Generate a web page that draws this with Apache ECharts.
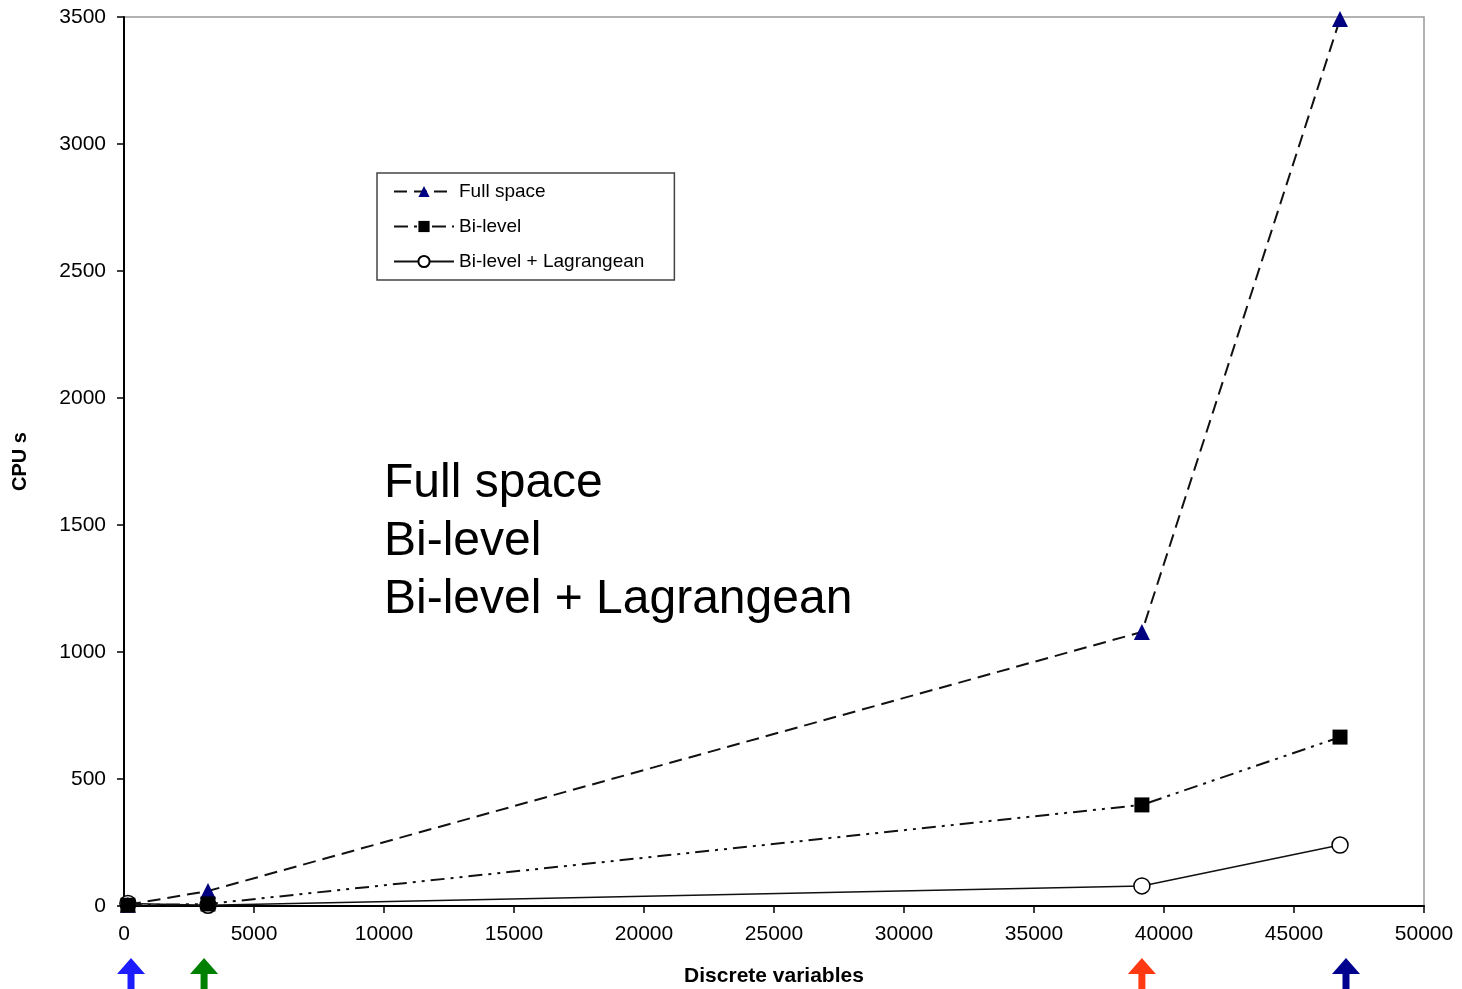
<!DOCTYPE html>
<html><head><meta charset="utf-8">
<script src="https://cdn.jsdelivr.net/npm/echarts@6/dist/echarts.min.js"></script>
<style>html,body{margin:0;padding:0;background:#fff}#c{width:1462px;height:989px}</style>
</head><body><div id="c"></div>
<script>
const seriesNames = ['Full space', 'Bi-level', 'Bi-level + Lagrangean'];
const xValues = [150, 3230, 39150, 46770];
const fullSpace = [5, 59, 1079, 3492];
const biLevel = [3, 8, 398, 665];
const biLevelLag = [10, 3, 79, 240];
const arrowX = [270, 3080, 39150, 47000];
const arrowColors = ['#1c1cff', '#008000', '#ff3a12', '#00008f'];
const overlayLines = ['Full space', 'Bi-level', 'Bi-level + Lagrangean'];

const font = 'Liberation Sans, Arial, sans-serif';
const chart = echarts.init(document.getElementById('c'), null, {renderer: 'canvas'});
function pairs(ys) { return xValues.map((x, i) => [x, ys[i]]); }
const plain = v => String(v);

chart.setOption({
  animation: false,
  grid: {left: 124, right: 38, top: 17, bottom: 83, show: true, borderColor: '#999', borderWidth: 1.5,
         backgroundColor: 'transparent', containLabel: false, outerBoundsMode: 'none'},
  xAxis: {
    type: 'value', min: 0, max: 50000, interval: 5000,
    name: 'Discrete variables', nameLocation: 'middle', nameGap: 60,
    nameTextStyle: {fontFamily: font, fontWeight: 'bold', fontSize: 21, color: '#000'},
    axisLine: {lineStyle: {color: '#000', width: 2}},
    axisTick: {show: true, length: 7, lineStyle: {color: '#000', width: 1.5}},
    axisLabel: {fontFamily: font, fontSize: 21, color: '#000', margin: 18, formatter: plain},
    splitLine: {show: false}
  },
  yAxis: {
    type: 'value', min: 0, max: 3500, interval: 500,
    name: 'CPU s', nameLocation: 'middle', nameGap: 94, nameRotate: 90,
    nameTextStyle: {fontFamily: font, fontWeight: 'bold', fontSize: 20, color: '#000'},
    axisLine: {show: true, lineStyle: {color: '#000', width: 2}},
    axisTick: {show: true, length: 7, lineStyle: {color: '#000', width: 1.5}},
    axisLabel: {fontFamily: font, fontSize: 21, color: '#000', margin: 18, formatter: plain},
    splitLine: {show: false}
  },
  legend: {
    orient: 'vertical', left: 377, top: 173, width: 299,
    padding: [9, 30, 9, 16], itemGap: 16, itemWidth: 60, itemHeight: 14,
    backgroundColor: '#fff', borderColor: '#444', borderWidth: 1.5,
    textStyle: {fontFamily: font, fontSize: 19, color: '#000'},
    data: seriesNames
  },
  series: [
    {
      name: seriesNames[0], type: 'line', data: pairs(fullSpace), z: 3,
      symbol: 'triangle', symbolSize: 16,
      itemStyle: {color: '#000080'},
      lineStyle: {color: '#111', width: 2, type: [13, 7]}
    },
    {
      name: seriesNames[1], type: 'line', data: pairs(biLevel), z: 4,
      symbol: 'rect', symbolSize: 15,
      itemStyle: {color: '#000'},
      lineStyle: {color: '#111', width: 2, type: [14, 6, 3, 6, 3, 6]}
    },
    {
      name: seriesNames[2], type: 'line', data: pairs(biLevelLag), z: 2,
      symbol: 'circle', symbolSize: 16, showAllSymbol: true,
      itemStyle: {color: '#fff', borderColor: '#000', borderWidth: 1.5},
      lineStyle: {color: '#111', width: 1.6, type: 'solid'}
    }
  ]
});

const graphics = [];
overlayLines.forEach((t, i) => {
  graphics.push({type: 'text', left: 384, top: 460 + i * 58,
    style: {text: t, fontFamily: font, fontSize: 48, fill: '#000'}});
});
arrowX.forEach((xv, i) => {
  const px = chart.convertToPixel({xAxisIndex: 0}, xv);
  const top = 958;
  graphics.push({type: 'polygon', shape: {points: [
    [px, top], [px + 14, top + 16], [px + 3.5, top + 16], [px + 3.5, 995],
    [px - 3.5, 995], [px - 3.5, top + 16], [px - 14, top + 16]
  ]}, style: {fill: arrowColors[i]}});
});
chart.setOption({graphic: graphics});
</script></body></html>
